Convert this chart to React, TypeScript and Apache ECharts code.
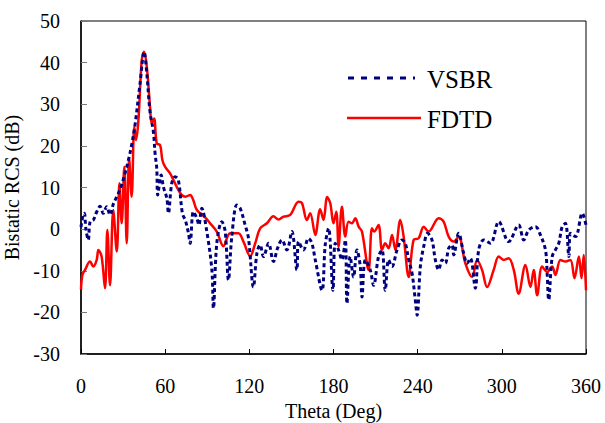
import React, { useEffect, useRef } from "react";
import * as echarts from "echarts";

const xTicks = [0, 60, 120, 180, 240, 300, 360];
const yTicks = [-30, -20, -10, 0, 10, 20, 30, 40, 50];

const fdtdTheta = [
  0, 1, 2.9, 6.4, 8.8, 11.2, 12.4, 14.7, 17.1, 18.8, 20.7, 23, 25.5, 27.4, 29, 30.9, 32.6, 34.3, 36.1, 38,
  39.2, 40.9, 43.3, 45, 46.9, 49.2, 50.4, 52.1, 54, 56.4, 58, 59.9, 63.5, 65.9, 69.4, 71.8, 74.5, 77.8, 80, 82.6,
  88.5, 92, 96.8, 101.5, 106.3, 112.2, 115.8, 120.6, 124.2, 127.7, 132.5, 137.2, 140.8, 144.4, 149.1, 155.1, 157.5, 161, 163.4, 167,
  170.5, 172.9, 175.5, 177.7, 180, 182, 183.6, 186, 188.4, 190.7, 193.2, 195.5, 197.9, 200.3, 205, 207.4, 209, 212.1, 214.6, 216.9,
  219.3, 221.7, 224.1, 227.6, 230, 233.6, 237.1, 240.7, 244.3, 247.8, 255, 258.5, 262.1, 265.7, 269.2, 274, 278.8, 282.4, 285.9, 289.5,
  294.2, 297.8, 301.4, 304.9, 308.5, 312, 316.8, 320.4, 322.7, 325.2, 328.7, 332.3, 335.9, 338.2, 341.8, 345.4, 348.9, 351.8, 354.9, 356.8,
  358.4, 360,
];
const fdtdValues = [
  -14.5, -11, -9.8, -7.8, -9, -7.4, -5, -6.6, -14.2, -0.2, -13.5, 4.6, -5.4, 11, 1.4, 15, -3.4, 17, 7.8, 24.6,
  21.4, 26, 40.6, 42.6, 39, 29.4, 25.4, 26.6, 20.6, 20.2, 16.6, 15, 13.4, 11.8, 9.4, 8.2, 7.8, 8.2, 7, 4.6,
  2.8, 1.4, -0.6, -4.1, -1, -1, -3, -6.5, -3.4, 0.2, 1.4, 3.1, 2.3, 3, 3.4, 6.6, 6.3, 2.2, 3.8, -1.4,
  4.8, 2.2, 7.7, 6.2, 1.4, 4.2, -4.2, 5.4, -1.8, 1.8, 1.4, 2.6, 0.6, -0.6, -9.8, 0.2, -0.6, 1, -5, -3.4,
  -4.6, -1.4, -5, 2.2, -1.8, -11.5, -2.6, -2.2, 0.6, -0.6, 2.6, 1.8, -1.8, -3, -1.8, -8.2, -11.5, -7.4, -9.8, -13.9,
  -9.8, -6.6, -7.4, -7, -9.8, -15.5, -8.6, -13.9, -9.8, -15.9, -9, -10.3, -9, -11, -7.4, -7.8, -7.4, -11.8, -6.6, -11.8,
  -6.2, -14.7,
];

const vsbrTheta = [
  0, 1.5, 2.4, 3.5, 5.2, 6.5, 8.8, 11, 13.6, 15.9, 18.3, 20.7, 23, 25.5, 27.8, 31.4, 33.8, 36, 38.5, 42.1,
  45, 46.9, 49.2, 51.6, 52.8, 54, 54.7, 57.1, 58.7, 61.2, 62.3, 64.7, 67.1, 69.4, 72.3, 74.5, 76.6, 77.8, 80.1, 82.6,
  84, 86.1, 89.7, 93.3, 94.4, 96.8, 100.4, 102.8, 105.1, 107.5, 111.1, 113.5, 117, 119.4, 122.9, 125.4, 127.7, 130.1, 133.7, 137.2,
  140.1, 143.2, 146.8, 150.3, 153.9, 155.1, 158.6, 162.2, 164.6, 167, 171.8, 174.1, 176.5, 179.6, 181.2, 183.6, 186, 188.4, 189.6, 191.9,
  194.3, 196.7, 199.1, 200.3, 202.7, 206.2, 208.6, 212.1, 214.6, 216.9, 219.3, 221.7, 225.3, 228.8, 231.2, 233.6, 236, 238.3, 239.6, 241.9,
  244.3, 247.1, 250.2, 252.6, 255, 257.4, 259.7, 262.1, 264.5, 265.7, 269.2, 272.8, 275.2, 277.6, 281.1, 283.5, 287.1, 291.9, 297.8, 304.9,
  312, 315.6, 319.2, 324, 327.5, 331.1, 332.3, 333.4, 335.9, 338.2, 340.6, 343, 345.4, 347.8, 348.9, 352.5, 357.3, 360,
];
const vsbrValues = [
  0.5, 3.5, 3.8, 0, -2.6, 1.8, 2.2, 4, 5.5, 3.8, 5.4, 3.4, 6, 7.8, 9.5, 13.4, 16.6, 20, 25, 35,
  42.6, 37.4, 28.2, 23.4, 18.2, 14.6, 8.2, 13, 10.2, 7.4, 3.8, 11, 12.6, 11.8, 3.8, 2, -1, -3.4, 4.2, 2.6,
  1, 5, -0.6, -9.8, -19, -3.4, 1.8, -0.6, -12.2, -1.8, 5.8, 5, 1, -2.2, -13.9, -5.8, -3.8, -6.6, -3.4, -7.8,
  -4.6, -2.6, -5, -0.6, -9.8, -3, -5, -2.2, -3.4, -7.4, -14.7, -3.8, 0.2, -14.7, -3.4, -5, -7.4, -2.6, -17.9, -6.6,
  -11.5, -5, -9, -16.3, -7.4, -9.8, -13.5, -6.6, -5, -14.7, -7.4, -9, -5, -2.6, -3.4, -7.4, -10.6, -17, -20.7, -9,
  -4.2, -1, -2.6, -7.4, -9.8, -7.4, -8.2, -4.6, -3.8, -6.2, -1, -5.8, -8.2, -7, -14.2, -5, -2.6, -3.4, 1.8, -3,
  1, -2.6, -0.2, 0.6, -1.4, -5, -10.6, -17, -6.6, -5, -3.4, 0.6, 1.4, -6.6, -1, -1.8, 3.8, 1,
];

const FONT = "Liberation Serif, Times New Roman, serif";

export default function App() {
  const ref = useRef<HTMLDivElement>(null);
  useEffect(() => {
    if (!ref.current) return;
    const chart = echarts.init(ref.current, null, { renderer: "svg" });
    const vsbr = vsbrTheta.map((t, i) => [t, vsbrValues[i]]);
    const fdtd = fdtdTheta.map((t, i) => [t, fdtdValues[i]]);
    chart.setOption({
      animation: false,
      backgroundColor: "#fff",
      textStyle: { fontFamily: FONT },
      grid: {
        left: 81,
        right: 19,
        top: 21,
        bottom: 69,
        show: true,
        borderColor: "#000",
        borderWidth: 1,
        containLabel: false,
        outerBoundsMode: "none",
      },
      xAxis: {
        type: "value",
        min: 0,
        max: 360,
        interval: 60,
        name: "Theta (Deg)",
        nameLocation: "middle",
        nameGap: 42,
        nameTextStyle: { fontFamily: FONT, fontSize: 20, color: "#000" },
        axisLine: { show: true, onZero: false, lineStyle: { color: "#000", width: 1.5 } },
        axisTick: { show: true, inside: true, length: 5, lineStyle: { color: "#000" } },
        axisLabel: { fontFamily: FONT, fontSize: 20, color: "#000", margin: 22 },
        splitLine: { show: false },
      },
      yAxis: {
        type: "value",
        min: -30,
        max: 50,
        interval: 10,
        name: "Bistatic RCS (dB)",
        nameLocation: "middle",
        nameGap: 40,
        nameTextStyle: { fontFamily: FONT, fontSize: 20, color: "#000" },
        axisLine: { show: true, onZero: false, lineStyle: { color: "#000", width: 1.5 } },
        axisTick: { show: true, inside: true, length: 6, lineStyle: { color: "#777" } },
        axisLabel: { fontFamily: FONT, fontSize: 20, color: "#000", margin: 21 },
        splitLine: { show: false },
      },
      series: [
        {
          name: "FDTD",
          type: "line",
          data: fdtd,
          showSymbol: false,
          smooth: 0.35,
          lineStyle: { color: "#ff0000", width: 2.5 },
          z: 2,
        },
        {
          name: "VSBR",
          type: "line",
          data: vsbr,
          showSymbol: false,
          smooth: 0.35,
          lineStyle: { color: "#00007f", width: 3, type: [4, 3] },
          z: 3,
        },
      ],
      graphic: [
        {
          type: "line",
          shape: { x1: 348, y1: 78, x2: 415, y2: 78 },
          style: { stroke: "#00007f", lineWidth: 3, lineDash: [6, 7] },
        },
        {
          type: "text",
          x: 427,
          y: 79,
          style: { text: "VSBR", fontFamily: FONT, fontSize: 25, fill: "#000", verticalAlign: "middle" },
        },
        {
          type: "line",
          shape: { x1: 347, y1: 118, x2: 421, y2: 118 },
          style: { stroke: "#ff0000", lineWidth: 2.5 },
        },
        {
          type: "text",
          x: 427,
          y: 119,
          style: { text: "FDTD", fontFamily: FONT, fontSize: 25, fill: "#000", verticalAlign: "middle" },
        },
      ],
    });
    return () => chart.dispose();
  }, []);
  return <div ref={ref} style={{ width: 605, height: 423, position: "absolute", left: 0, top: 0 }} />;
}
